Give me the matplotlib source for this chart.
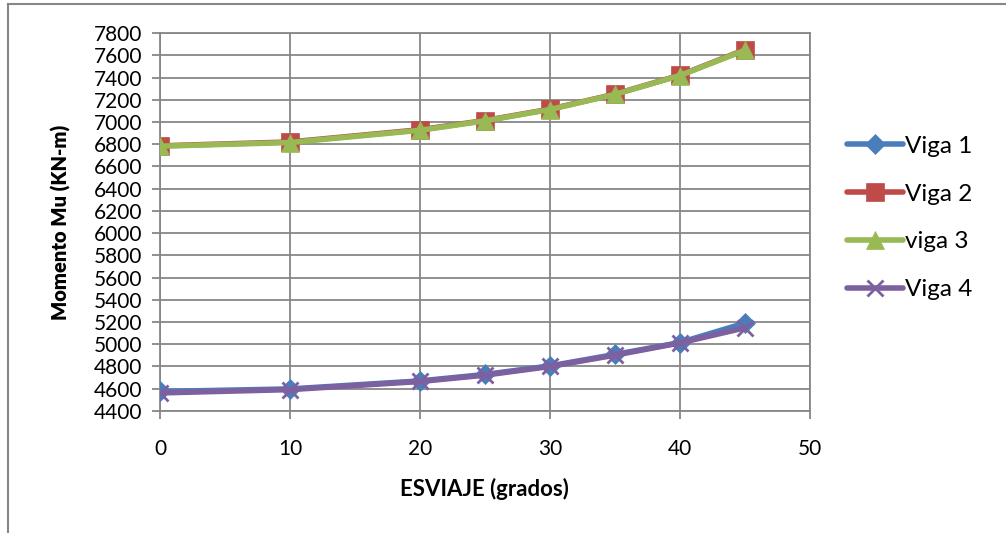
import matplotlib.pyplot as plt
from matplotlib.lines import Line2D

plt.rcParams["font.family"] = ["Lato", "DejaVu Sans"]

esviaje = [0, 10, 20, 25, 30, 35, 40, 45]
viga1 = [4575, 4598, 4670, 4728, 4805, 4908, 5015, 5190]
viga2 = [6785, 6820, 6930, 7013, 7115, 7250, 7420, 7650]
viga3 = [6782, 6815, 6925, 7010, 7112, 7248, 7418, 7645]
viga4 = [4562, 4592, 4665, 4722, 4800, 4902, 5012, 5148]

labels = ["Viga 1", "Viga 2", "viga 3", "Viga 4"]
colors = ["#4A7EBB", "#BE4B48", "#98B954", "#7D60A0"]
markers = ["D", "s", "^", "x"]
msizes = [10, 13, 13, 12]

fig = plt.figure(figsize=(10.06, 5.33), dpi=100)
ax = fig.add_axes([0.159, 0.229, 0.646, 0.709])

for i, ys in enumerate([viga1, viga2, viga3, viga4]):
    ax.plot(esviaje, ys, color=colors[i], lw=4, marker=markers[i],
            markersize=msizes[i], markeredgewidth=2 if markers[i] == "x" else 0.5,
            markeredgecolor=colors[i], label=labels[i], zorder=3 + i,
            solid_capstyle="round")

ax.set_xlim(0, 50)
ax.set_ylim(4400, 7800)
ax.set_xticks(range(0, 51, 10))
ax.set_yticks(range(4400, 7801, 200))
ax.grid(True, color="#878787", lw=1.3)
ax.set_axisbelow(True)
for s in ax.spines.values():
    s.set_color("#878787")
    s.set_linewidth(1.3)
ax.tick_params(axis="both", labelsize=15, color="#878787", length=6, width=1.3)
ax.tick_params(axis="y", pad=7)
ax.tick_params(axis="x", pad=14)
ax.set_xlabel("ESVIAJE (grados)", fontsize=16, fontweight="bold", labelpad=14)
ax.set_ylabel("Momento Mu (KN-m)", fontsize=14.5, fontweight="heavy", labelpad=16)

fig.legend(loc="center left", bbox_to_anchor=(0.832, 0.591), frameon=False,
           fontsize=17.5, labelspacing=1.1, handlelength=2.3, handletextpad=0.1,
           borderaxespad=0)

# chart frame (only top and left edges are visible in the reference)
fig.add_artist(Line2D([0.008, 1.0], [0.993, 0.993], transform=fig.transFigure,
                      color="#878787", lw=1.5))
fig.add_artist(Line2D([0.008, 0.008], [0.0, 0.993], transform=fig.transFigure,
                      color="#878787", lw=1.5))

plt.savefig("out.png", dpi=100)
